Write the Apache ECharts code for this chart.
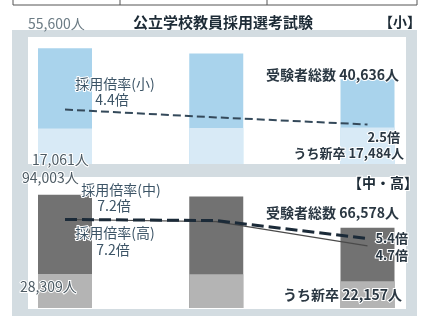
<!DOCTYPE html>
<html><head><meta charset="utf-8">
<script src="https://cdn.jsdelivr.net/npm/echarts@6/dist/echarts.min.js"></script>
<style>html,body{margin:0;padding:0;background:#fff}#c{width:422px;height:316px}</style>
</head><body><div id="c"></div>
<script>
// ---- data ----
const categories = ['H24', 'H29', 'R4'];
const elemTotal = [55600, 53000, 40636];   // 受験者総数（小）
const elemNew = [17061, 17300, 17484];     // うち新卒（小）
const elemRatio = [4.4, 3.4, 2.5];         // 採用倍率(小)
const secTotal = [94003, 92500, 66578];    // 受験者総数（中・高）
const secNew = [28309, 28000, 22157];      // うち新卒（中・高）
const jhRatio = [7.2, 7.0, 4.7];           // 採用倍率(中)
const hsRatio = [7.2, 7.1, 5.4];           // 採用倍率(高)

const FONT = '"Noto Sans CJK JP", "Noto Sans", sans-serif';
function t(text, x, y, o) {
  o = o || {};
  return {
    type: 'text', z: 100,
    style: {
      text: text, x: x, y: y,
      font: (o.bold ? 'bold ' : '') + (o.size || 12) + 'px ' + FONT,
      fill: o.color || '#2a3742',
      textAlign: o.align || 'left', textVerticalAlign: 'middle',
      stroke: o.halo === false ? null : '#ffffff', lineWidth: o.halo === false ? 0 : 2
    }
  };
}
function rect(x, y, w, h, fill) {
  return { type: 'rect', z: -10, shape: { x: x, y: y, width: w, height: h }, style: { fill: fill } };
}
function line(x1, y1, x2, y2) {
  return { type: 'line', z: -5, shape: { x1: x1, y1: y1, x2: x2, y2: y2 }, style: { stroke: '#555', lineWidth: 1 } };
}

const chart = echarts.init(document.getElementById('c'), null, { renderer: 'canvas' });
const hiddenX = (gi) => ({
  type: 'category', gridIndex: gi, data: categories, boundaryGap: false,
  axisLine: { show: false }, axisTick: { show: false }, axisLabel: { show: false }, splitLine: { show: false }
});
const hiddenY = (gi, min, max) => ({
  type: 'value', gridIndex: gi, min: min, max: max,
  axisLine: { show: false }, axisTick: { show: false }, axisLabel: { show: false }, splitLine: { show: false }
});

chart.setOption({
  animation: false,
  backgroundColor: '#ffffff',
  grid: [
    { left: 65, top: 40, width: 302.5, height: 124 },
    { left: 65, top: 190, width: 302.5, height: 118 }
  ],
  xAxis: [hiddenX(0), hiddenX(1)],
  yAxis: [hiddenY(0, 0, 59500), hiddenY(0, -2.5, 13.2), hiddenY(1, 0, 98000), hiddenY(1, -1.2, 10)],
  series: [
    { type: 'bar', xAxisIndex: 0, yAxisIndex: 0, data: elemTotal, barWidth: 54, barGap: '-100%', clip: false, silent: true,
      itemStyle: { color: '#a9d3ec' } },
    { type: 'bar', xAxisIndex: 0, yAxisIndex: 0, data: elemNew, barWidth: 54, barGap: '-100%', clip: false, silent: true,
      itemStyle: { color: '#d8eaf6' } },
    { type: 'line', xAxisIndex: 0, yAxisIndex: 1, data: elemRatio, symbol: 'none', silent: true, clip: false,
      lineStyle: { color: '#34495a', width: 2, type: [8, 4] } },
    { type: 'bar', xAxisIndex: 1, yAxisIndex: 2, data: secTotal, barWidth: 54, barGap: '-100%', clip: false, silent: true,
      itemStyle: { color: '#727272' } },
    { type: 'bar', xAxisIndex: 1, yAxisIndex: 2, data: secNew, barWidth: 54, barGap: '-100%', clip: false, silent: true,
      itemStyle: { color: '#b4b4b4' } },
    { type: 'line', xAxisIndex: 1, yAxisIndex: 3, data: jhRatio, symbol: 'none', silent: true, clip: false,
      lineStyle: { color: '#4a4a4a', width: 1.2 } },
    { type: 'line', xAxisIndex: 1, yAxisIndex: 3, data: hsRatio, symbol: 'none', silent: true, clip: false,
      lineStyle: { color: '#1b2a38', width: 3, type: [12, 5] } }
  ],
  graphic: [
    // table edge at top
    line(13, 0, 13, 5), line(120, 0, 120, 5), line(267, 0, 267, 5), line(417, 0, 417, 5), line(13, 5, 417, 5),
    // panels
    rect(12, 30, 405, 140, '#d3dce1'),
    rect(28, 37, 378, 127, '#ffffff'),
    rect(12, 170, 405, 146, '#d3dce1'),
    rect(28, 177, 378, 132, '#ffffff'),
    // header texts
    t('55,600人', 28, 24, { size: 14, color: '#6b7b84', halo: false }),
    t('公立学校教員採用選考試験', 223, 22, { size: 15, bold: true, align: 'center', color: '#1d2b36', halo: false }),
    t('【小】', 421, 22, { size: 14, bold: true, align: 'right', color: '#1d2b36', halo: false }),
    // top panel
    t('採用倍率(小)', 115, 84, { size: 14, align: 'center', color: '#3c5466' }),
    t('4.4倍', 112, 100, { size: 14, align: 'center', color: '#3c5466' }),
    t('受験者総数 40,636人', 399, 75, { size: 14, bold: true, align: 'right' }),
    t('2.5倍', 400, 137, { size: 13, bold: true, align: 'right' }),
    t('うち新卒 17,484人', 404, 153, { size: 13, bold: true, align: 'right' }),
    t('17,061人', 32, 160, { size: 14, color: '#4d5b64' }),
    // bottom panel
    t('94,003人', 22, 178, { size: 14, color: '#4d5b64' }),
    t('【中・高】', 418, 183, { size: 14, bold: true, align: 'right', color: '#1d2b36' }),
    t('採用倍率(中)', 121, 190, { size: 14, align: 'center', color: '#3c5466' }),
    t('7.2倍', 114, 206, { size: 14, align: 'center', color: '#3c5466' }),
    t('採用倍率(高)', 115, 233, { size: 14, align: 'center', color: '#3c5466' }),
    t('7.2倍', 113, 250, { size: 14, align: 'center', color: '#3c5466' }),
    t('28,309人', 20, 287, { size: 14, color: '#4d5b64' }),
    t('受験者総数 66,578人', 399, 213, { size: 14, bold: true, align: 'right' }),
    t('5.4倍', 408, 238, { size: 13, bold: true, align: 'right' }),
    t('4.7倍', 408, 255, { size: 13, bold: true, align: 'right' }),
    t('うち新卒 22,157人', 402, 295, { size: 14, bold: true, align: 'right' })
  ]
});
</script></body></html>
